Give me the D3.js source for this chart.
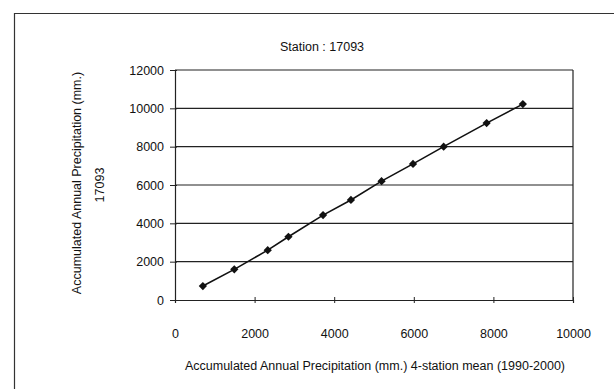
<!DOCTYPE html>
<html><head><meta charset="utf-8">
<script src="https://cdn.jsdelivr.net/npm/d3@7"></script>
<style>body{margin:0;background:#fff}svg{display:block}text{font-family:"Liberation Sans",Arial,sans-serif;fill:#111}</style>
</head><body>
<script>
const title = "Station : 17093";
const xTitle = "Accumulated Annual Precipitation (mm.) 4-station mean (1990-2000)";
const yTitle1 = "Accumulated Annual Precipitation (mm.)";
const yTitle2 = "17093";
const xValues = [700, 1490, 2330, 2850, 3720, 4420, 5190, 5980, 6750, 7830, 8740];
const yValues = [730, 1600, 2600, 3300, 4430, 5220, 6200, 7100, 8000, 9230, 10220];
const xTicks = [0, 2000, 4000, 6000, 8000, 10000];
const yTicks = [0, 2000, 4000, 6000, 8000, 10000, 12000];

const W = 614, H = 389;
const svg = d3.select("body").append("svg").attr("width", W).attr("height", H);
const pL = 175, pR = 573, pT = 70, pB = 300;
const x = d3.scaleLinear().domain([0, 10000]).range([pL, pR]);
const y = d3.scaleLinear().domain([0, 12000]).range([pB, pT]);
const ink = "#222";
const fs = 12.5;

// outer frame
svg.append("path").attr("d", `M${W+2},13.5H14.5V${H+2}`).attr("fill","none").attr("stroke","#333").attr("stroke-width",1.2);

// gridlines
svg.append("g").selectAll("line").data(yTicks.filter(d => d > 0)).join("line")
  .attr("x1", pL).attr("x2", pR).attr("y1", d => y(d)).attr("y2", d => y(d))
  .attr("stroke", ink).attr("stroke-width", 1.2);
// right border
svg.append("line").attr("x1", pR).attr("x2", pR).attr("y1", pT).attr("y2", pB)
  .attr("stroke", ink).attr("stroke-width", 1.2);

// y axis
const yAxis = d3.axisLeft(y).tickValues(yTicks).tickSize(5).tickPadding(7).tickFormat(d3.format("d"));
const gy = svg.append("g").attr("transform", `translate(${pL},0)`).call(yAxis);
gy.select(".domain").attr("stroke", ink).attr("stroke-width", 1.2);
gy.selectAll(".tick line").attr("stroke", ink).attr("x2", -5).attr("x1", 2);
gy.selectAll(".tick text").attr("font-size", fs).attr("fill", "#111").attr("x", -11).style("font-family", "Liberation Sans, Arial, sans-serif");

// x axis
const xAxis = d3.axisBottom(x).tickValues(xTicks).tickSize(3).tickPadding(0).tickFormat(d3.format("d"));
const gx = svg.append("g").attr("transform", `translate(0,${pB})`).call(xAxis);
gx.select(".domain").attr("stroke", ink).attr("stroke-width", 1.2);
gx.selectAll(".tick line").attr("stroke", ink).attr("y1", -3).attr("y2", 3);
gx.selectAll(".tick text").attr("font-size", fs).attr("fill", "#111").attr("dy", null).attr("y", 38)
  .style("font-family", "Liberation Sans, Arial, sans-serif");

// line + markers
const pts = xValues.map((v, i) => [v, yValues[i]]);
svg.append("path").datum(pts).attr("fill", "none").attr("stroke", "#111").attr("stroke-width", 1.6)
  .attr("d", d3.line().x(d => x(d[0])).y(d => y(d[1])));
svg.append("g").selectAll("path").data(pts).join("path")
  .attr("transform", d => `translate(${x(d[0])},${y(d[1])}) rotate(45)`)
  .attr("d", d3.symbol(d3.symbolSquare, 34)).attr("fill", "#111");

// titles
svg.append("text").attr("x", 322).attr("y", 51).attr("text-anchor", "middle").attr("font-size", fs).text(title);
svg.append("text").attr("x", 375).attr("y", 370).attr("text-anchor", "middle").attr("font-size", fs).text(xTitle);
svg.append("text").attr("transform", "translate(81,183) rotate(-90)").attr("text-anchor", "middle").attr("font-size", fs).text(yTitle1);
svg.append("text").attr("transform", "translate(104,185) rotate(-90)").attr("text-anchor", "middle").attr("font-size", fs).text(yTitle2);
</script>
</body></html>
